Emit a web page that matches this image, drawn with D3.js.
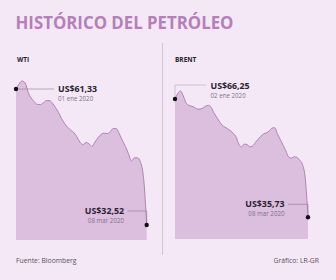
<!DOCTYPE html>
<html><head><meta charset="utf-8">
<script src="https://cdn.jsdelivr.net/npm/d3@7"></script>
<style>
html,body{margin:0;padding:0;background:#f4e8f6;}
svg{display:block;font-family:"Open Sans",sans-serif;}
</style></head>
<body>
<script>
const title = "HISTÓRICO DEL PETRÓLEO";
const seriesNames = ["WTI", "BRENT"];
const wti = [61.33,62.39,63.02,62.64,60.65,59.40,58.68,58.07,58.02,58.41,58.87,58.87,58.32,57.39,56.33,55.06,54.02,53.22,52.60,52.11,51.22,50.10,49.55,50.00,49.74,49.15,50.10,51.03,51.71,51.99,51.88,52.26,52.98,52.92,51.82,50.44,49.17,47.62,46.10,46.75,46.75,45.74,42.31,32.52];
const brent = [66.25,67.67,68.32,67.03,65.22,64.62,64.39,64.10,63.66,63.66,63.90,64.36,64.62,64.18,62.71,61.59,60.46,59.50,59.01,58.57,58.08,57.40,56.55,54.61,53.91,54.61,54.53,53.89,54.12,55.05,55.88,56.65,57.25,57.53,58.02,58.72,58.85,57.20,55.80,54.35,52.90,51.30,50.99,51.35,51.20,50.45,49.39,45.84,35.73];
const startLabels = ["US$61,33", "US$66,25"];
const startDates = ["01 ene 2020", "02 ene 2020"];
const endLabels = ["US$32,52", "US$35,73"];
const endDates = ["08 mar 2020", "08 mar 2020"];
const source = "Fuente: Bloomberg";
const credit = "Gráfico: LR-GR";

const W = 336, H = 280;
const svg = d3.select("body").append("svg").attr("width", W).attr("height", H);
svg.append("rect").attr("width", W).attr("height", H).attr("fill", "#f4e8f6");

svg.append("text").attr("x", 15.5).attr("y", 28.5).text(title)
  .attr("font-family", "'Open Sans',sans-serif").attr("font-weight", 700)
  .attr("font-size", 18).attr("fill", "#b57fb9")
  .attr("textLength", 218).attr("lengthAdjust", "spacingAndGlyphs");

svg.append("line").attr("x1", 162.5).attr("x2", 162.5).attr("y1", 43).attr("y2", 255)
  .attr("stroke", "#cfc4d2").attr("stroke-width", 1);

const panels = [
  {data: wti, x0: 16, x1: 146.7, yTop: 89, yBot: 225, base: 240, dom: [32.52, 61.33], startStyle: "h", nameX: 17,
   sLine: 54, sText: 58, sY: 92.3, eLineY: 211, eLineX: 127.5, eText: 124, eY: 214},
  {data: brent, x0: 175, x1: 308, yTop: 99, yBot: 217.3, base: 239, dom: [35.73, 66.25], startStyle: "l", nameX: 175,
   sLine: 206, sText: 210.5, sY: 89, sLineY: 85, eLineY: 204.3, eLineX: 288, eText: 284.5, eY: 207.3}
];

panels.forEach((p, k) => {
  const g = svg.append("g");
  const x = d3.scaleLinear().domain([0, p.data.length - 1]).range([p.x0, p.x1]);
  const y = d3.scaleLinear().domain(p.dom).range([p.yBot, p.yTop]);
  g.append("text").attr("x", p.nameX).attr("y", 61.5).text(seriesNames[k])
    .attr("font-size", 6.5).attr("font-weight", 700).attr("fill", "#2b2230");
  const area = d3.area().x((d, i) => x(i)).y0(p.base).y1(d => y(d)).curve(d3.curveMonotoneX);
  const line = d3.line().x((d, i) => x(i)).y(d => y(d)).curve(d3.curveMonotoneX);
  g.append("path").datum(p.data).attr("d", area).attr("fill", "#dcbfdf");
  g.append("path").datum(p.data).attr("d", line).attr("fill", "none")
    .attr("stroke", "#a77aab").attr("stroke-width", 0.9);
  const n = p.data.length - 1;
  const sx = x(0), sy = y(p.data[0]);
  const ex = x(n), ey = y(p.data[n]);
  if (p.startStyle === "h") {
    g.append("line").attr("x1", sx).attr("x2", p.sLine).attr("y1", sy).attr("y2", sy)
      .attr("stroke", "#9a8aa0").attr("stroke-width", 0.7);
  } else {
    g.append("polyline").attr("points", `${sx},${sy} ${sx},${p.sLineY} ${p.sLine},${p.sLineY}`)
      .attr("fill", "none").attr("stroke", "#bdb3c0").attr("stroke-width", 0.7);
  }
  g.append("circle").attr("cx", sx).attr("cy", sy).attr("r", 2.2).attr("fill", "#111");
  g.append("text").attr("x", p.sText).attr("y", p.sY).text(startLabels[k])
    .attr("font-size", 8.8).attr("font-weight", 700).attr("fill", "#2b2230");
  g.append("text").attr("x", p.sText).attr("y", p.sY + 8.6).text(startDates[k])
    .attr("font-size", 6.2).attr("fill", "#7d7383");
  g.append("polyline").attr("points", `${ex},${ey} ${ex},${p.eLineY} ${p.eLineX},${p.eLineY}`)
    .attr("fill", "none").attr("stroke", "#9a7d9f").attr("stroke-width", 0.7);
  g.append("circle").attr("cx", ex).attr("cy", ey).attr("r", 2.2).attr("fill", "#111");
  g.append("text").attr("x", p.eText).attr("y", p.eY).attr("text-anchor", "end").text(endLabels[k])
    .attr("font-size", 8.8).attr("font-weight", 700).attr("fill", "#2b2230");
  g.append("text").attr("x", p.eText).attr("y", p.eY + 8.6).attr("text-anchor", "end").text(endDates[k])
    .attr("font-size", 6.2).attr("fill", "#7d7383");
});

svg.append("text").attr("x", 16).attr("y", 263).text(source)
  .attr("font-size", 6.8).attr("fill", "#5a5160");
svg.append("text").attr("x", 319).attr("y", 263).attr("text-anchor", "end").text(credit)
  .attr("font-size", 6.8).attr("fill", "#5a5160");
</script>
</body></html>
